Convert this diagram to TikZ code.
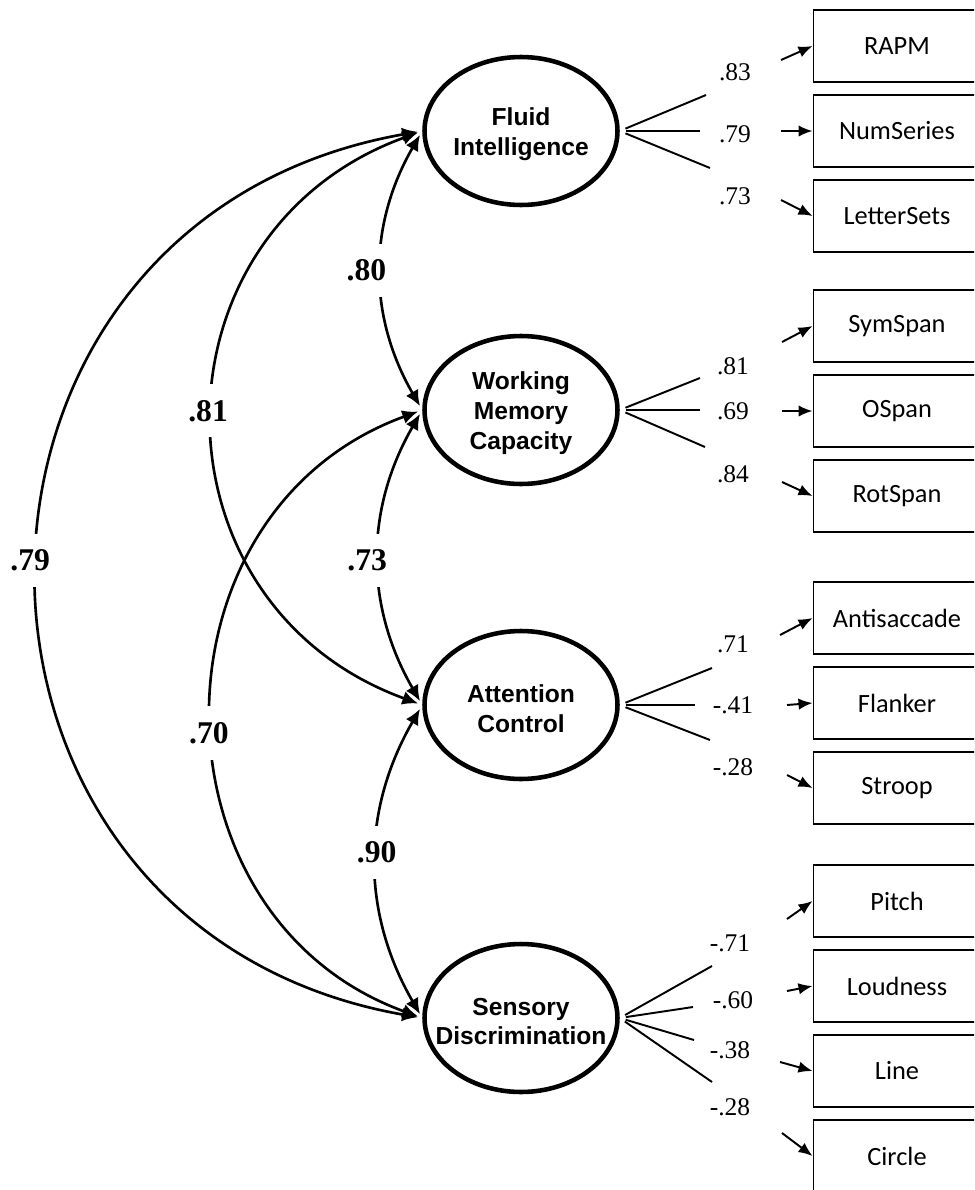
\documentclass[tikz,border=0pt]{standalone}
\usepackage{fontspec}
\setmainfont{Liberation Serif}
\newfontfamily\latentfont{Liberation Sans}
\newfontfamily\boxfont{Carlito}
\usetikzlibrary{arrows.meta,shapes.geometric,positioning}
\tikzstyle{latent}=[ellipse,draw,line width=2.6pt,minimum width=3.86cm,minimum height=2.96cm,inner sep=0pt]
\tikzstyle{lattext}=[align=center,font=\latentfont\bfseries\fontsize{14}{17}\selectfont,yshift=-0.07cm]
\tikzstyle{manifest}=[rectangle,draw,line width=1.1pt,minimum width=3.34cm,minimum height=1.43cm,font=\boxfont\fontsize{15}{18}\selectfont]
\tikzstyle{corr}=[draw,line width=1.5pt,{Latex[length=9pt,width=8pt]}-{Latex[length=9pt,width=8pt]},shorten <=2.5pt,shorten >=2.5pt]
\tikzstyle{corrval}=[fill=white,font=\bfseries\fontsize{18}{20}\selectfont,inner xsep=1pt,inner ysep=9pt]
\tikzstyle{fan}=[draw,line width=1.1pt,shorten <=3.5pt]
\tikzstyle{load}=[font=\fontsize{14.5}{16}\selectfont]
\tikzstyle{err}=[draw,line width=1.1pt,-{Latex[length=8pt,width=6.5pt]}]

\begin{document}
\begin{tikzpicture}[x=0.02cm,y=0.02cm]
\useasboundingbox (0,0) rectangle (974,-1190);
\clip (0,0) rectangle (974,-1190);

% First the latent factors
\foreach \y/\name/\txt in {131/fi/{Fluid\\Intelligence},410/wm/{Working\\Memory\\Capacity},
  705/ac/{Attention\\Control},1018/sd/{Sensory\\Discrimination}}
{
  \node[latent] (\name) at (521,-\y) {};
  \node[lattext] (\name-t) at (\name) {\txt};
}

% Then the observed tasks
\foreach \y/\name/\txt in {46/rapm/RAPM,131/numser/NumSeries,216/letset/LetterSets,
  326/symspan/SymSpan,411/ospan/OSpan,496/rotspan/RotSpan,
  618/antisac/Antisaccade,703/flanker/Flanker,788/stroop/Stroop,
  901/pitch/Pitch,986/loud/Loudness,1071/line/Line,1156/circle/Circle}
\node[manifest] (\name) at (897,-\y) {\txt};

% Loadings: fan lines, values and arrows into the boxes
\foreach \lat/\fx/\fy/\lx/\ly/\val/\ax/\ay/\name in {
  fi/706/95/735/72/.83/781/60/rapm, fi/700/131/735/134/.79/781/131/numser,
  fi/710/168/735/196/.73/781/200/letset,
  wm/700/378/733/366/.81/782/342/symspan, wm/700/410/733/411/.69/782/411/ospan,
  wm/705/447/733/474/.84/782/482/rotspan,
  ac/712/668/733/644/.71/780/635/antisac, ac/695/705/733/705/-.41/787/705/flanker,
  ac/710/740/733/767/-.28/787/775/stroop,
  sd/712/966/730/943/-.71/787/919/pitch, sd/693/1007/733/1000/-.60/787/991/loud,
  sd/694/1040/730/1050/-.38/780/1062/line, sd/712/1082/730/1107/-.28/782/1133/circle}
{
  \coordinate (\name-f) at (\fx,-\fy);
  \coordinate (\name-a) at (\ax,-\ay);
  \path[fan] (\lat.east) -- (\name-f);
  \node[load] (\name-v) at (\lx,-\ly) {\val};
  \path[err] (\name-a) -- (\name.west);
}

% Correlations between the factors
\path[corr] (fi.west) to[out=240,in=120] node[corrval,pos=.5,xshift=-.3cm] (c12) {.80} (wm.west);
\path[corr] (wm.west) to[out=240,in=120] node[corrval,pos=.51,xshift=-.24cm] (c23) {.73} (ac.west);
\path[corr] (ac.west) to[out=240,in=120] node[corrval,pos=.47] (c34) {.90} (sd.west);
\path[corr] (fi.west) to[out=200,in=160,looseness=1.32] node[corrval,pos=.49,xshift=-.12cm] (c13) {.81} (ac.west);
\path[corr] (wm.west) to[out=200,in=160,looseness=1.25] node[corrval,pos=.525,xshift=-.1cm] (c24) {.70} (sd.west);
\path[corr] (fi.west) to[out=190,in=170,looseness=1.5] node[corrval,pos=.488,xshift=-.18cm] (c14) {.79} (sd.west);

\end{tikzpicture}
\end{document}
